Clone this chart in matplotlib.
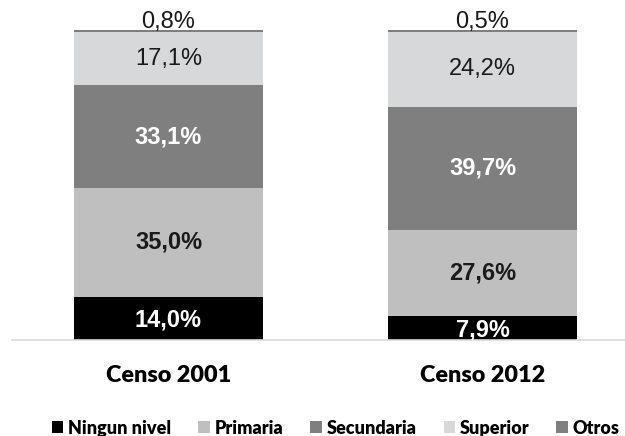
import matplotlib.pyplot as plt
import numpy as np

# data
censos = ["Censo 2001", "Censo 2012"]
niveles = ["Ningun nivel", "Primaria", "Secundaria", "Superior", "Otros"]
ningun = [14.0, 7.9]
primaria = [35.0, 27.6]
secundaria = [33.1, 39.7]
superior = [17.1, 24.2]
otros = [0.8, 0.5]

colores = ["#000000", "#bfbfbf", "#7f7f7f", "#d7d8da", "#7f7f7f"]
series = [ningun, primaria, secundaria, superior, otros]

fig = plt.figure(figsize=(6.25, 4.36), dpi=100)
ax = fig.add_axes([0.0184, 0.2202, 1.0048, 0.711])

x = np.arange(len(censos))
bottom = np.zeros(len(censos))
for nombre, vals, col in zip(niveles, series, colores):
    ax.bar(x, vals, 0.6, bottom=bottom, color=col, label=nombre)
    bottom += np.array(vals)

# labels
def fmt(v):
    return f"{v:.1f}%".replace(".", ",")

estilo = {  # per series: (color, weight)
    0: ("white", "bold"),
    1: ("#1a1a1a", "bold"),
    2: ("white", "bold"),
    3: ("#1a1a1a", "normal"),
}
for i in range(len(censos)):
    base = 0
    for s, vals in enumerate(series[:4]):
        v = vals[i]
        col, w = estilo[s]
        yc = base + v / 2
        if s == 0:
            yc -= 0.7
        ax.text(x[i], yc, fmt(v), ha="center", va="center", color=col,
                fontweight=w, fontsize=17, family="Liberation Sans")
        base += v
    ax.text(x[i], 102.6, fmt(otros[i]), ha="center", va="center",
            color="#1a1a1a", fontsize=17, family="Liberation Sans")

ax.set_xlim(-0.5, 1.5)
ax.set_ylim(0, 100)
ax.set_yticks([])
ax.set_xticks(x)
ax.set_xticklabels(censos, fontsize=16.8, fontweight="heavy", family="Lato")
ax.tick_params(axis="x", length=0, pad=18)
for sp in ["top", "left", "right"]:
    ax.spines[sp].set_visible(False)
ax.spines["bottom"].set_color("#d9d9d9")
ax.spines["bottom"].set_linewidth(1.2)

fig.legend(loc="center", bbox_to_anchor=(0.537, 0.018), ncol=5, frameon=False,
           handlelength=0.65, handleheight=0.65, handletextpad=0.25,
           columnspacing=1.5, prop={"family": "Lato", "weight": "heavy", "size": 13})

fig.savefig("out.png", dpi=100)
